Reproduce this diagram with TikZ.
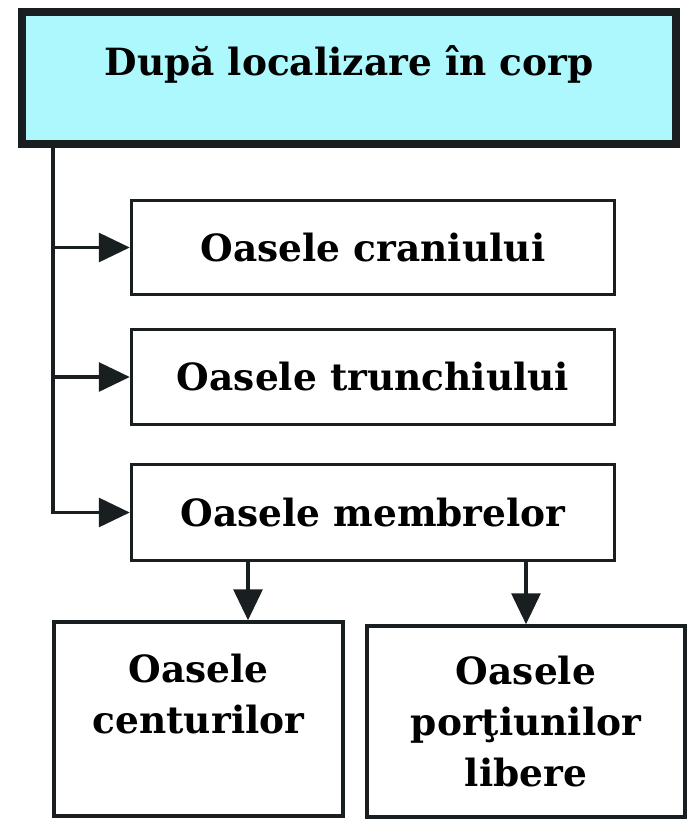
\documentclass[tikz,border=0pt]{standalone}
\usepackage{fontspec}
\setmainfont{DejaVu Serif}
\usepackage{xcolor}
\usetikzlibrary{arrows.meta, positioning}
\definecolor{headcyan}{RGB}{172,248,252}
\definecolor{inkdark}{RGB}{25,30,32}

\begin{document}
\begin{tikzpicture}[x=1pt, y=-1pt,
  font=\bfseries\fontsize{37.5}{51}\selectfont,
  box/.style={draw=inkdark, line width=3.5pt, align=center, inner sep=0pt},
  head/.style={box, fill=headcyan, line width=8pt,
               text height=28pt, text depth=34pt},
  conn/.style={draw=inkdark, line width=3.2pt,
               -{Triangle[length=31pt, width=29pt]}}]

  \useasboundingbox (0,0) rectangle (693,820);

  \node[head, minimum width=654pt, minimum height=132pt] (hdr) at (349,78)
    {După localizare în corp};

  \node[box, minimum width=483pt, minimum height=94pt] (cran) at (373,247.5)
    {Oasele craniului};
  \node[box, minimum width=483pt, minimum height=95pt] (trun) at (373,377)
    {Oasele trunchiului};
  \node[box, minimum width=483pt, minimum height=96pt] (memb) at (373,512.5)
    {Oasele membrelor};

  \node[box, minimum width=289pt, minimum height=194pt] (cent) at (198.5,719)
    {Oasele\\ centurilor\\ \mbox{}};
  \node[box, minimum width=318pt, minimum height=191pt] (libr) at (526,721.5)
    {Oasele\\ porţiunilor\\ libere};

  % left spine
  \coordinate (spine) at (53,0);
  \draw[conn] (hdr.south -| spine) |- (memb.west);
  \draw[conn] (cran.west -| spine) -- (cran.west);
  \draw[conn] (trun.west -| spine) -- (trun.west);

  \draw[conn] ([xshift=49.5pt]cent.north |- memb.south)
    -- ([xshift=49.5pt]cent.north);
  \draw[conn] (libr.north |- memb.south) -- (libr.north);
\end{tikzpicture}
\end{document}
